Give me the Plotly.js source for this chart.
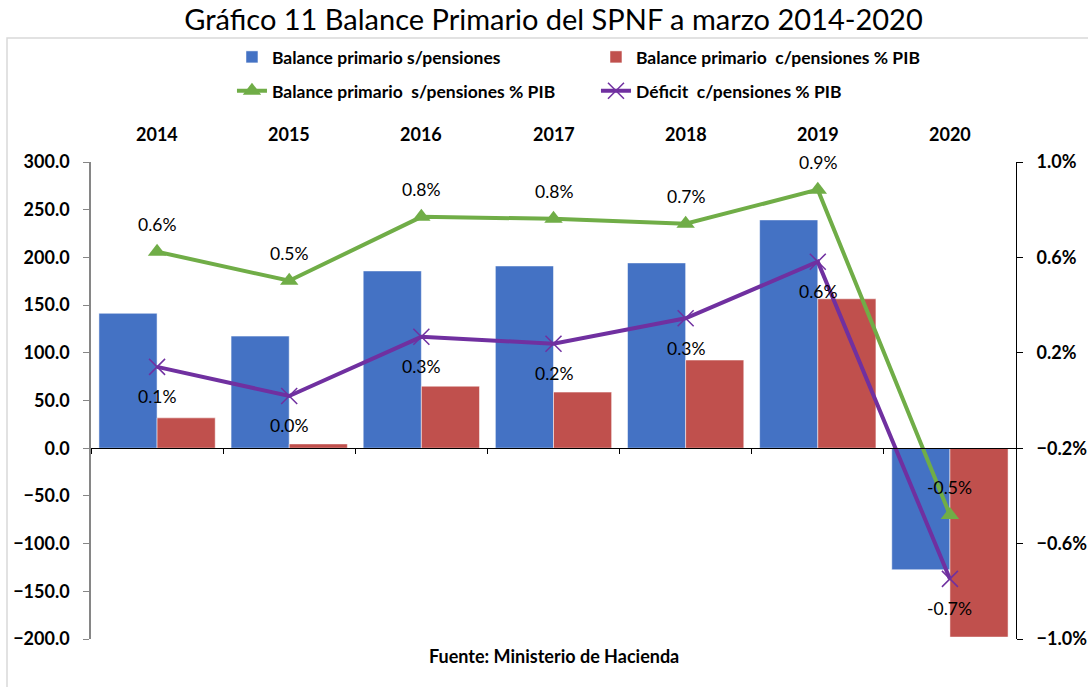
<!DOCTYPE html>
<html><head><meta charset="utf-8">
<script src="https://cdn.plot.ly/plotly-3.0.1.min.js"></script>
<style>html,body{margin:0;padding:0;background:#fff}#chart{width:1088px;height:687px}</style>
</head><body><div id="chart"></div>
<script>
const years = ['2014','2015','2016','2017','2018','2019','2020'];
const balanceSinPensiones = [141.4, 117.5, 185.8, 191.0, 194.2, 239.3, -127.4];
const balanceConPensiones = [31.8, 4.5, 65.0, 58.8, 92.4, 156.6, -198.0];
const pctSinPensiones = [0.624, 0.502, 0.770, 0.762, 0.741, 0.884, -0.480];
const pctDeficitCon = [0.141, 0.019, 0.267, 0.238, 0.345, 0.582, -0.748];
const names = ['Balance primario s/pensiones', 'Balance primario  c/pensiones % PIB',
               'Balance primario  s/pensiones % PIB', 'Déficit  c/pensiones % PIB'];

const FONT = "Lato, 'Noto Sans', sans-serif";
const fmt = v => v.toFixed(1) + '%';

const traces = [
  {type:'bar', x: years, y: balanceSinPensiones, name: names[0], legend:'legend',
   marker:{color:'#4472C4', line:{color:'rgba(255,255,255,0.5)', width:1}}},
  {type:'bar', x: years, y: balanceConPensiones, name: names[1], legend:'legend',
   marker:{color:'#C0504D', line:{color:'rgba(255,255,255,0.5)', width:1}}},
  {type:'scatter', mode:'lines+markers', x: years, y: pctSinPensiones, yaxis:'y2', name: names[2], legend:'legend2',
   line:{color:'#70AD47', width:4}, marker:{symbol:'triangle-up', size:16, color:'#70AD47'}},
  {type:'scatter', mode:'lines+markers', x: years, y: pctDeficitCon, yaxis:'y2', name: names[3], legend:'legend2',
   line:{color:'#7030A0', width:4}, marker:{symbol:'x-thin', size:16, color:'#7030A0', line:{color:'#7030A0', width:1.5}}}
];

const annotations = [];
years.forEach((yr, i) => {
  annotations.push({x: i, y: 1, xref:'x', yref:'paper', yanchor:'bottom', yshift: 15, showarrow:false,
    text: yr, font:{family: FONT, size:18, weight:700, color:'#000'}});
  annotations.push({x: i, y: pctSinPensiones[i], xref:'x', yref:'y2', yshift: 27, showarrow:false,
    text: fmt(pctSinPensiones[i]), font:{family: FONT, size:17.5, color:'#000'}});
  annotations.push({x: i, y: pctDeficitCon[i], xref:'x', yref:'y2', yshift: -30, showarrow:false,
    text: fmt(pctDeficitCon[i]), font:{family: FONT, size:17.5, color:'#000'}});
});
annotations.push({x: 0.5, y: 0, xref:'paper', yref:'paper', yanchor:'middle', yshift: -17, showarrow:false,
  text: 'Fuente: Ministerio de Hacienda', font:{family: FONT, size:18, weight:700, color:'#000'}});

const legendFont = {family: FONT, size:17.5, weight:700, color:'#000'};
const layout = {
  width:1088, height:687,
  margin:{l:91, r:72, t:162, b:48},
  paper_bgcolor:'#fff', plot_bgcolor:'#fff',
  font:{family: FONT, color:'#000'},
  title:{text:'Gráfico 11 Balance Primario del SPNF a marzo 2014-2020', x:0.5, xref:'paper', xanchor:'center',
         y: 0.971, yref:'container', yanchor:'middle', font:{family: FONT, size:29, color:'#000'}},
  barmode:'group', bargap:0.12, bargroupgap:0,
  xaxis:{type:'category', range:[-0.5, 6.5], autorange:false, anchor:'free', position:0.4, showline:true, linecolor:'#000', linewidth:1,
         ticks:'outside', tickson:'boundaries', ticklen:5, tickcolor:'#000', showticklabels:false, showgrid:false, zeroline:false},
  yaxis:{range:[-200,300], dtick:50, tick0:0, tickformat:'.1f', showgrid:false, zeroline:false,
         showline:true, linecolor:'#868686', linewidth:1.5, ticks:'outside', ticklen:6, tickcolor:'#868686',
         ticklabelstandoff:10, tickfont:{family: FONT, size:18, weight:700, color:'#000'}},
  yaxis2:{overlaying:'y', side:'right', range:[-1,1], tick0:-1, dtick:0.4, tickformat:'.1f', ticksuffix:'%',
          showgrid:false, zeroline:false, showline:true, linecolor:'#000', linewidth:1, ticks:'outside', ticklen:6,
          tickcolor:'#000', ticklabelstandoff:10, tickfont:{family: FONT, size:18, weight:700, color:'#000'}},
  legend:{orientation:'h', x:0.1524, xanchor:'left', y:1.2578, yanchor:'top', entrywidth:319, entrywidthmode:'pixels',
          font: legendFont, bgcolor:'rgba(0,0,0,0)'},
  legend2:{orientation:'h', x:0.1524, xanchor:'left', y:1.1869, yanchor:'top', entrywidth:319, entrywidthmode:'pixels',
          font: legendFont, bgcolor:'rgba(0,0,0,0)'},
  annotations: annotations,
  shapes:[{type:'rect', xref:'paper', yref:'paper', x0:-0.0908, x1:1.08, y0:-0.107, y1:1.26,
           line:{color:'#D9D9D9', width:1.5}, fillcolor:'rgba(0,0,0,0)', layer:'below'}]
};

Plotly.newPlot('chart', traces, layout, {displayModeBar:false, responsive:false});
</script></body></html>
